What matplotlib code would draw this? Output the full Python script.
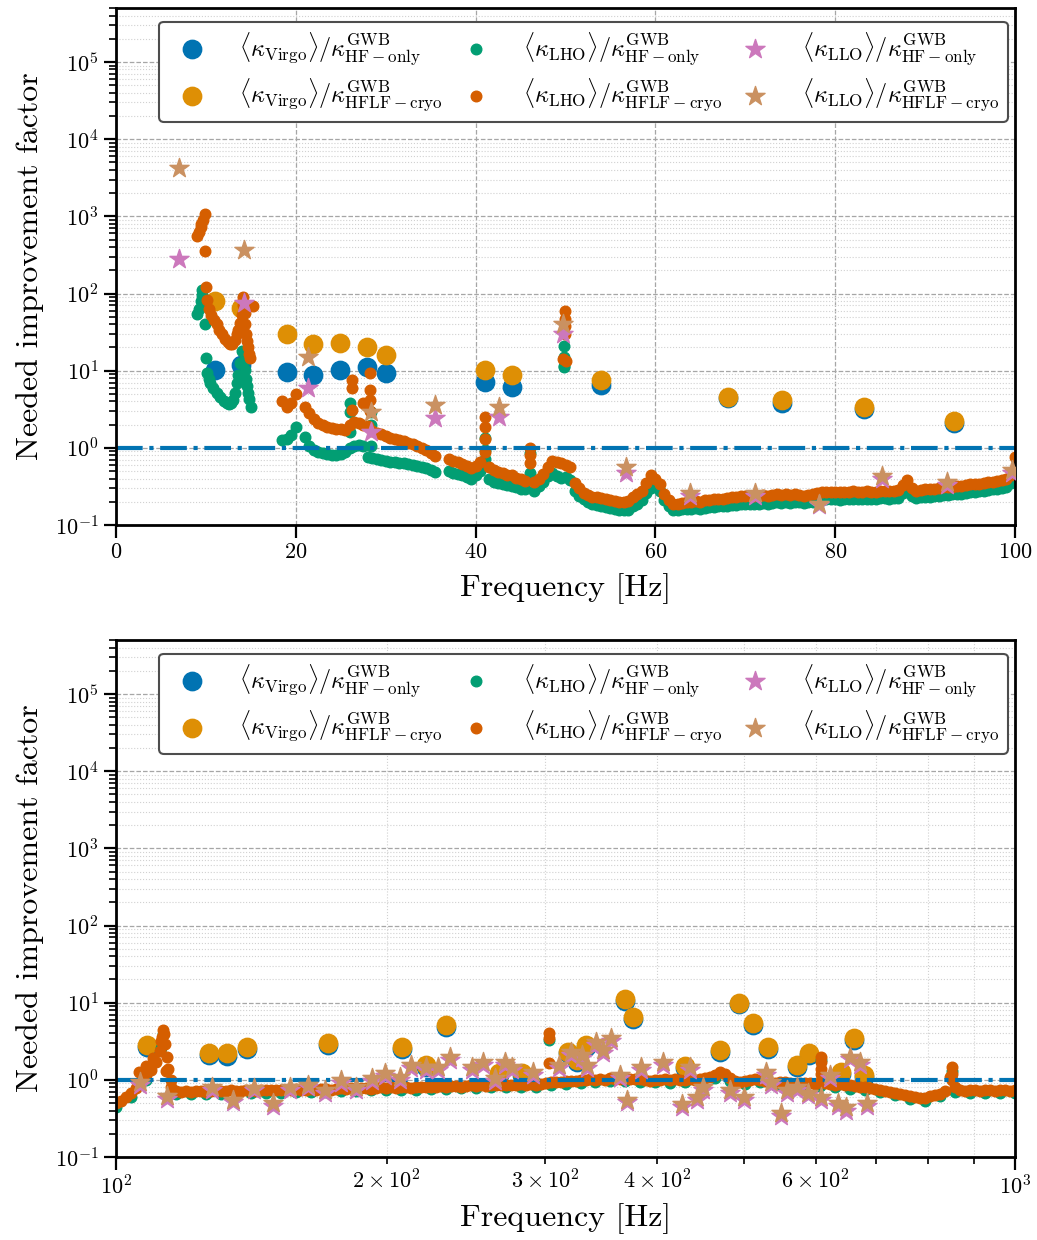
import numpy as np
import matplotlib
matplotlib.use("Agg")
import matplotlib.pyplot as plt

plt.rcParams.update({
    "font.family": "serif",
    "font.serif": ["cmr10", "DejaVu Serif"],
    "mathtext.fontset": "cm",
    "axes.formatter.use_mathtext": True,
    "axes.unicode_minus": False,
    "font.size": 16,
})

# colorblind palette
cVirgoHF = "#0173B2"
cVirgoHFLF = "#DE8F05"
cLhoHF = "#029E73"
cLhoHFLF = "#D55E00"
cLloHF = "#CC78BC"
cLloHFLF = "#CA9161"

labels = [
    r"$\langle\kappa_{\rm Virgo}\rangle/\kappa^{\rm GWB}_{\rm HF-only}$",
    r"$\langle\kappa_{\rm Virgo}\rangle/\kappa^{\rm GWB}_{\rm HFLF-cryo}$",
    r"$\langle\kappa_{\rm LHO}\rangle/\kappa^{\rm GWB}_{\rm HF-only}$",
    r"$\langle\kappa_{\rm LHO}\rangle/\kappa^{\rm GWB}_{\rm HFLF-cryo}$",
    r"$\langle\kappa_{\rm LLO}\rangle/\kappa^{\rm GWB}_{\rm HF-only}$",
    r"$\langle\kappa_{\rm LLO}\rangle/\kappa^{\rm GWB}_{\rm HFLF-cryo}$",
]

# ---------------- 0 - 100 Hz ----------------
virgoTopF = [11.0, 13.9, 19.0, 21.9, 24.9, 27.9, 30.0, 41.0, 44.0, 53.9, 68.1, 74.1, 83.2, 93.2]
virgoTopHF = [10.3, 12.0, 9.7, 8.9, 10.2, 11.2, 9.3, 7.2, 6.2, 6.5, 4.4, 3.8, 3.2, 2.1]
virgoTopHFLF = [79, 64, 29.5, 22, 23, 20.4, 16.2, 10.2, 8.7, 7.6, 4.6, 4.2, 3.4, 2.2]

lloTopF = [7.0, 14.2, 21.4, 28.4, 35.5, 42.6, 49.7, 56.7, 63.8, 71.1, 78.2, 85.2, 92.4, 99.7]
lloTopHF = [276, 76, 6.0, 1.62, 2.45, 2.5, 29.5, 0.47, 0.24, 0.24, 0.18, 0.40, 0.33, 0.47]
lloTopHFLF = [4200, 362, 15.1, 2.95, 3.6, 3.4, 40, 0.56, 0.26, 0.26, 0.19, 0.43, 0.36, 0.51]

# LHO below 15.5 Hz
lhoLowF_HF = [9.0, 9.2, 9.4, 9.6, 9.6, 9.8, 9.9, 10.0, 10.1, 10.3, 10.5, 10.8, 11.2, 11.6, 12.0, 12.3,
              12.6, 12.8, 13.0, 13.2, 13.4, 13.6, 13.8, 14.0, 14.2, 14.4, 14.5, 14.6, 14.7, 14.8, 15.0]
lhoLowV_HF = [54, 63, 79, 112, 95, 71, 40, 14.5, 9.3, 7.9, 6.9, 6.0, 5.1, 4.6, 4.0, 3.8,
              3.7, 3.8, 4.2, 5.2, 6.9, 8.9, 12.6, 17.8, 13.2, 10.2, 7.9, 6.3, 5.1, 4.3, 3.4]
lhoLowF_HFLF = [9.0, 9.2, 9.4, 9.5, 9.7, 9.9, 9.9, 10.0, 10.1, 10.3, 10.6, 10.9, 11.2, 11.5, 11.8, 12.1, 12.4,
                12.7, 12.9, 13.2, 13.4, 13.6, 13.8, 14.0, 14.1, 14.1, 14.3, 14.4, 14.5, 14.6, 14.7, 14.8, 14.9, 15.2]
lhoLowV_HFLF = [550, 630, 725, 795, 890, 1070, 355, 123, 83, 63, 52, 46, 40, 34, 30, 26, 23.4,
                21.9, 21.9, 25, 29.5, 34, 42, 52, 71, 89, 56, 40, 30, 24, 20, 16.6, 14.5, 68]

# LHO on a 0.5 Hz grid, 18.5 - 35.5 Hz
lhoMidV_HF = [1.26, 1.32, 1.45, 1.86, np.nan, 1.38, 1.07, 0.93, 0.89, 0.85, 0.83, 0.81, 0.81, 0.83, 0.89,
              1.0, 1.05, 1.1, 1.07, 0.76, 0.74, 0.71, 0.69, 0.68, 0.66, 0.65, 0.63, 0.63, 0.62, 0.60,
              0.59, 0.56, 0.55, 0.51, 0.48]
lhoMidV_HFLF = [4.0, 3.4, 3.8, 5.0, np.nan, 3.4, 2.8, 2.35, 2.1, 1.95, 1.86, 1.82, 1.78, 1.74, 1.72,
                2.0, 2.15, 2.1, 2.0, 1.9, 1.66, 1.58, 1.51, 1.43, 1.36, 1.30, 1.26, 1.21, 1.16, 1.11,
                1.06, 1.00, 0.93, 0.86, 0.78]

# LHO on a 0.5 Hz grid, 37 - 100 Hz
lhoHighV_HF = [
    0.50, 0.47, 0.46, 0.45, 0.42, 0.40, 0.44, 0.50, 0.71, 0.40,
    0.36, 0.35, 0.34, 0.33, 0.32, 0.31, 0.295, 0.29, 0.47, 0.28,
    0.32, 0.36, 0.43, 0.47, 0.43, 0.41, 0.42, 0.38, 0.28, 0.24,
    0.215, 0.20, 0.19, 0.182, 0.174, 0.17, 0.166, 0.162, 0.158, 0.155,
    0.158, 0.174, 0.19, 0.21, 0.26, 0.30, 0.32, 0.28, 0.21, 0.174,
    0.158, 0.158, 0.16, 0.162, 0.162, 0.165, 0.162, 0.168, 0.17, 0.172,
    0.175, 0.175, 0.178, 0.18, 0.182, 0.185, 0.185, 0.188, 0.186, 0.19,
    0.192, 0.19, 0.193, 0.196, 0.194, 0.197, 0.195, 0.198, 0.196, 0.194,
    0.196, 0.20, 0.205, 0.21, 0.215, 0.215, 0.215, 0.212, 0.215, 0.215,
    0.22, 0.216, 0.216, 0.22, 0.217, 0.218, 0.222, 0.222, 0.22, 0.222,
    0.226, 0.26, 0.30, 0.24, 0.225, 0.228, 0.23, 0.232, 0.236, 0.24,
    0.245, 0.246, 0.25, 0.254, 0.256, 0.262, 0.266, 0.27, 0.274, 0.278,
    0.285, 0.29, 0.294, 0.30, 0.31, 0.35, 0.45]
lhoHighV_HFLF = [
    0.71, 0.68, 0.65, 0.62, 0.58, 0.55, 0.59, 0.66, 0.89, 0.56,
    0.51, 0.49, 0.47, 0.45, 0.44, 0.41, 0.39, 0.37, 0.63, 0.36,
    0.40, 0.46, 0.56, 0.68, 0.66, 0.63, 0.60, 0.56, 0.35, 0.30,
    0.26, 0.245, 0.234, 0.23, 0.224, 0.22, 0.21, 0.204, 0.20, 0.20,
    0.204, 0.23, 0.25, 0.28, 0.35, 0.44, 0.40, 0.34, 0.25, 0.21,
    0.19, 0.19, 0.195, 0.20, 0.20, 0.205, 0.20, 0.21, 0.21, 0.215,
    0.22, 0.22, 0.225, 0.23, 0.23, 0.235, 0.235, 0.24, 0.235, 0.24,
    0.245, 0.24, 0.245, 0.25, 0.245, 0.25, 0.245, 0.25, 0.245, 0.24,
    0.245, 0.25, 0.26, 0.265, 0.27, 0.27, 0.27, 0.265, 0.27, 0.27,
    0.275, 0.27, 0.27, 0.275, 0.27, 0.27, 0.28, 0.28, 0.275, 0.28,
    0.285, 0.33, 0.38, 0.30, 0.28, 0.285, 0.29, 0.29, 0.295, 0.30,
    0.31, 0.31, 0.315, 0.32, 0.32, 0.33, 0.335, 0.34, 0.345, 0.35,
    0.36, 0.365, 0.37, 0.38, 0.39, 0.45, 0.75]

# vertical strands (lines) in the LHO curve
lhoSpikeF_HF = [26.0, 26.0, 26.0, 28.4, 28.4, 28.4, 41.0, 41.0, 46.0, 49.8, 49.8, 49.8, 49.8]
lhoSpikeV_HF = [3.8, 2.95, 1.6, 2.9, 2.0, 1.05, 1.35, 0.95, 0.85, 21, 15, 11.5, 11.0]
lhoSpikeF_HFLF = [26.2, 26.2, 26.2, 27.5, 28.3, 28.3, 28.3, 28.3, 41.0, 41.0, 41.0, 46.0, 46.0,
                  49.7, 49.9, 49.9, 49.9, 49.9, 50.1]
lhoSpikeV_HFLF = [7.6, 6.0, 3.1, 3.8, 9.3, 5.6, 4.2, 3.0, 2.5, 1.86, 1.3, 1.0, 0.8,
                  14.0, 59, 47, 38, 30, 13.5]

# ---------------- 100 - 1000 Hz ----------------
virgoBotF = [108.2, 126.9, 133, 140, 172, 208, 221, 233, 267, 283, 318, 326, 333, 368, 376,
             429, 470, 493, 511, 531, 572, 590, 641, 662, 679]
virgoBotHF = [2.65, 2.1, 2.05, 2.55, 2.85, 2.55, 1.45, 4.85, 1.15, 1.15, 2.2, 1.7, 2.65, 10.6, 6.2,
              1.42, 2.3, 9.5, 5.1, 2.55, 1.45, 2.1, 1.2, 3.3, 1.08]
virgoBotHFLF = [2.8, 2.25, 2.2, 2.7, 3.0, 2.7, 1.55, 5.1, 1.23, 1.23, 2.3, 1.8, 2.8, 11.2, 6.5,
                1.5, 2.45, 10.0, 5.4, 2.7, 1.55, 2.2, 1.26, 3.5, 1.15]

lloBotF = [106.3, 113.9, 127.9, 135, 142.5, 149.5, 156, 163.5, 170.7, 178, 185, 192.5, 199, 207,
           213, 221, 228, 235, 249, 256, 264, 271, 276, 291, 311, 321, 330, 334, 342, 348, 355,
           364, 370, 384, 406, 426, 435, 443, 450, 482, 499, 528, 535, 549, 557, 572, 588, 608,
           623, 635, 648, 656, 673, 685]
lloBotHF = [0.86, 0.57, 0.75, 0.51, 0.73, 0.46, 0.75, 0.80, 0.68, 0.92, 0.75, 0.98, 1.13, 1.01,
            1.43, 1.36, 1.33, 1.8, 1.36, 1.56, 0.98, 1.56, 1.33, 1.16, 1.43, 2.1, 1.93, 1.43, 2.85,
            2.25, 3.2, 1.06, 0.51, 1.36, 1.56, 0.44, 1.36, 0.55, 0.75, 0.68, 0.55, 1.16, 0.86, 0.34,
            0.68, 0.75, 0.63, 0.55, 1.06, 0.46, 0.40, 1.84, 1.56, 0.46]
lloBotHFLF = [0.93, 0.62, 0.81, 0.55, 0.79, 0.50, 0.81, 0.87, 0.74, 1.0, 0.81, 1.07, 1.23, 1.10,
              1.55, 1.48, 1.45, 1.95, 1.48, 1.7, 1.07, 1.7, 1.45, 1.26, 1.55, 2.3, 2.1, 1.55, 3.1,
              2.45, 3.5, 1.15, 0.55, 1.48, 1.7, 0.48, 1.48, 0.60, 0.81, 0.74, 0.60, 1.26, 0.93, 0.37,
              0.74, 0.81, 0.68, 0.60, 1.15, 0.50, 0.44, 2.0, 1.7, 0.50]

# LHO sampled on log-spaced grid (181 points for HFLF, 61 for HF)
lhoBotV_HFLF = [
    0.50, 0.54, 0.60, 0.67, 0.78, 0.95, 1.15, 1.35, 1.70, 3.20,
    1.30, 0.82, 0.72, 0.70, 0.71, 0.70, 0.72, 0.71, 0.70, 0.72,
    0.73, 0.71, 0.72, 0.73, 0.71, 0.72, 0.74, 0.73, 0.72, 0.74,
    0.73, 0.75, 0.74, 0.73, 0.75, 0.74, 0.76, 0.75, 0.74, 0.76,
    0.75, 0.77, 0.76, 0.75, 0.77, 0.78, 0.76, 0.78, 0.77, 0.79,
    0.78, 0.77, 0.79, 0.80, 0.78, 0.80, 0.79, 0.81, 0.80, 0.79,
    0.81, 0.82, 0.80, 0.82, 0.81, 0.83, 0.82, 0.84, 0.83, 0.82,
    0.84, 0.85, 0.83, 0.85, 0.84, 0.86, 0.85, 0.87, 0.86, 0.85,
    0.87, 0.88, 0.86, 0.88, 0.87, 0.89, 0.92, 0.93, 0.95, 0.94,
    0.96, 0.98, 0.97, 1.00, 0.99, 1.02, 1.00, 1.03, 1.01, 1.05,
    1.03, 1.02, 1.06, 1.04, 1.02, 1.03, 1.00, 0.98, 1.01, 0.99,
    1.02, 1.00, 1.03, 1.01, 0.99, 1.02, 1.00, 1.03, 1.05, 1.08,
    1.15, 1.25, 1.20, 1.05, 0.98, 0.95, 0.97, 0.99, 1.02, 1.00,
    0.96, 0.92, 0.90, 0.93, 0.95, 0.92, 0.88, 0.90, 0.92, 0.90,
    0.88, 0.95, 0.90, 0.88, 0.87, 0.89, 0.86, 0.85, 0.83, 0.82,
    0.80, 0.78, 0.76, 0.74, 0.72, 0.70, 0.68, 0.66, 0.64, 0.62,
    0.60, 0.58, 0.59, 0.61, 0.63, 0.66, 0.72, 1.10, 0.80, 0.74,
    0.72, 0.74, 0.73, 0.72, 0.74, 0.73, 0.72, 0.74, 0.73, 0.72, 0.74]
lhoBotV_HF = [
    0.45, 0.60, 1.0, 2.6, 0.66, 0.65, 0.65, 0.66, 0.66, 0.67,
    0.68, 0.68, 0.69, 0.69, 0.70, 0.72, 0.72, 0.73, 0.74, 0.74,
    0.75, 0.76, 0.77, 0.78, 0.79, 0.80, 0.80, 0.82, 0.82, 0.86,
    0.89, 0.91, 0.94, 0.96, 0.96, 0.95, 0.93, 0.92, 0.94, 0.96,
    1.05, 0.97, 0.89, 0.93, 0.86, 0.85, 0.83, 0.84, 0.80, 0.77,
    0.74, 0.69, 0.63, 0.57, 0.54, 0.61, 0.69, 0.68, 0.67, 0.68, 0.68]

lhoBotSpikeF_HF = [112.7, 303, 609, 850]
lhoBotSpikeV_HF = [3.9, 3.3, 1.8, 1.3]
lhoBotSpikeF_HFLF = [106.0, 108.0, 110.0, 112.0, 112.4, 112.7, 113.0, 113.3, 113.8, 114.3, 115.0,
                     303, 303, 303.5, 609, 609, 609, 609, 850, 850, 850]
lhoBotSpikeV_HFLF = [1.25, 1.5, 1.9, 2.4, 3.6, 4.4, 3.9, 2.9, 2.0, 1.4, 1.0,
                     4.1, 3.5, 1.65, 2.0, 1.7, 1.4, 1.2, 1.45, 1.2, 1.0]

# frequency grids for the regularly sampled LHO parts
fMid = np.arange(18.5, 36.0, 0.5)
fHigh = np.arange(37.0, 100.25, 0.5)
fBot = np.geomspace(100, 1000, len(lhoBotV_HFLF))
fBotHF = np.geomspace(100, 1000, len(lhoBotV_HF))
assert len(fMid) == len(lhoMidV_HF) == len(lhoMidV_HFLF)
assert len(fHigh) == len(lhoHighV_HF) == len(lhoHighV_HFLF)

lhoTopF_HF = np.concatenate([lhoLowF_HF, fMid, fHigh, lhoSpikeF_HF])
lhoTopV_HF = np.concatenate([lhoLowV_HF, lhoMidV_HF, lhoHighV_HF, lhoSpikeV_HF])
lhoTopF_HFLF = np.concatenate([lhoLowF_HFLF, fMid, fHigh, lhoSpikeF_HFLF])
lhoTopV_HFLF = np.concatenate([lhoLowV_HFLF, lhoMidV_HFLF, lhoHighV_HFLF, lhoSpikeV_HFLF])

lhoBotF_HF = np.concatenate([fBotHF, lhoBotSpikeF_HF])
lhoBotVals_HF = np.concatenate([lhoBotV_HF, lhoBotSpikeV_HF])
lhoBotF_HFLF = np.concatenate([fBot, lhoBotSpikeF_HFLF])
lhoBotVals_HFLF = np.concatenate([lhoBotV_HFLF, lhoBotSpikeV_HFLF])


def drawPanel(ax, virgo, lho, llo, xlabelpad):
    ax.axhline(1, color=cVirgoHF, linewidth=3, linestyle="-.", zorder=2)

    ax.scatter(virgo[0], virgo[1], s=175, color=cVirgoHF, label=labels[0], zorder=1)
    ax.scatter(virgo[0], virgo[2], s=175, color=cVirgoHFLF, label=labels[1], zorder=1)
    ax.scatter(lho[0], lho[1], s=58, color=cLhoHF, label=labels[2], zorder=1)
    ax.scatter(lho[2], lho[3], s=58, color=cLhoHFLF, label=labels[3], zorder=1)
    ax.scatter(llo[0], llo[1], s=210, marker="*", color=cLloHF, label=labels[4], zorder=3)
    ax.scatter(llo[0], llo[2], s=210, marker="*", color=cLloHFLF, label=labels[5], zorder=3)

    ax.set_yscale("log")
    ax.set_ylim(0.1, 5e5)
    ax.set_xlabel("Frequency [Hz]", fontsize=23, labelpad=xlabelpad)
    ax.set_ylabel("Needed improvement factor", fontsize=23, labelpad=8)

    ax.grid(which="major", linestyle="--", color="0.65", linewidth=0.9)
    ax.grid(which="minor", linestyle=":", color="0.82", linewidth=0.8)
    ax.set_axisbelow(True)

    ax.tick_params(which="major", direction="out", length=9, width=1.6, labelsize=16)
    ax.tick_params(which="minor", direction="out", length=5, width=1.2, labelsize=16)
    for sp in ax.spines.values():
        sp.set_linewidth(2)

    leg = ax.legend(loc="upper center", bbox_to_anchor=(0.52, 0.974), borderaxespad=0,
                    ncol=3, fontsize=17.5, frameon=True, edgecolor="0.3", framealpha=1,
                    borderpad=0.35, columnspacing=0.35, handletextpad=0.95, labelspacing=0.4)
    leg.get_frame().set_linewidth(1.5)


fig = plt.figure(figsize=(10.37, 12.4), dpi=100)
ax1 = fig.add_axes([0.1119, 0.5766, 0.8669, 0.4169])
ax2 = fig.add_axes([0.1119, 0.0669, 0.8669, 0.4169])

drawPanel(ax1,
          (virgoTopF, virgoTopHF, virgoTopHFLF),
          (lhoTopF_HF, lhoTopV_HF, lhoTopF_HFLF, lhoTopV_HFLF),
          (lloTopF, lloTopHF, lloTopHFLF), 8)
ax1.set_xlim(0, 100)

drawPanel(ax2,
          (virgoBotF, virgoBotHF, virgoBotHFLF),
          (lhoBotF_HF, lhoBotVals_HF, lhoBotF_HFLF, lhoBotVals_HFLF),
          (lloBotF, lloBotHF, lloBotHFLF), 3)
ax2.set_xscale("log")
ax2.set_xlim(100, 1000)

fig.savefig("out.png", dpi=100)
